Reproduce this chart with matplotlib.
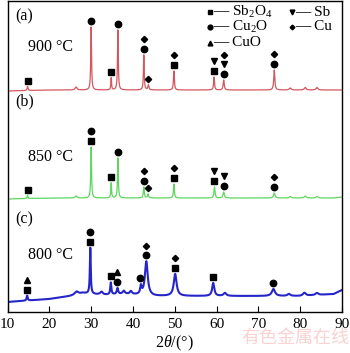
import numpy as np
import matplotlib
matplotlib.use("Agg")
import matplotlib.pyplot as plt

plt.rcParams['font.family'] = ['Liberation Serif', 'DejaVu Serif']
plt.rcParams['mathtext.fontset'] = 'custom'
plt.rcParams['mathtext.rm'] = 'Liberation Serif'
plt.rcParams['mathtext.it'] = 'Liberation Serif:italic'

# peaks: position (deg), height (px), FWHM (deg)
red_pos = [14.8, 26.4, 30.0, 34.8, 36.4, 42.6, 43.7, 49.8, 59.4, 61.7, 73.8, 77.6, 81.2, 84.0]
red_h = [4, 3, 63, 12, 60, 35, 5, 19, 13, 10, 20, 2, 2.5, 2.5]
red_w = [0.25, 0.5, 0.22, 0.2, 0.22, 0.22, 0.3, 0.25, 0.25, 0.3, 0.3, 0.5, 0.5, 0.5]

green_pos = [14.8, 26.4, 30.0, 34.8, 36.4, 42.6, 43.6, 49.8, 59.5, 61.7, 73.8, 77.6, 81.2, 84.0]
green_h = [3, 2, 51, 15, 40, 11, 4, 14, 11, 6, 5, 1.5, 2, 1.5]
green_w = [0.25, 0.5, 0.22, 0.2, 0.22, 0.25, 0.3, 0.25, 0.3, 0.35, 0.4, 0.5, 0.5, 0.5]

blue_pos = [14.7, 26.5, 29.8, 32.5, 34.7, 36.3, 37.8, 39.5, 41.9, 43.2, 50.1, 59.2, 62.0, 73.6, 77.3, 81.0, 84.0]
blue_h = [5, 3, 46, 3, 12, 6, 3, 3, 8, 34, 22, 13, 3, 7, 2, 3, 2]
blue_w = [0.3, 1.0, 0.25, 0.8, 0.3, 0.4, 0.6, 0.6, 0.4, 0.8, 0.8, 0.6, 0.8, 0.9, 0.8, 0.8, 0.8]

# background levels (px above the bottom axis)
bg_x = [10, 20, 25, 28, 30, 33, 38, 45, 55, 65, 80, 88, 90]
red_bg = [221, 222, 222, 222, 222, 222, 222, 222, 222, 222, 222, 222, 222]
green_bg = [113, 114, 114, 114, 114, 114, 114, 114, 114, 114, 114, 114, 115]
blue_bg = [10, 13, 16, 19, 18, 17, 18, 16, 16, 16, 16, 18, 22]

# phase markers: peak position, symbols from bottom to top
red_marks = [(14.8, 's'), (30.0, 'o'), (34.8, 's'), (36.4, 'o'), (42.6, 'oD'), (43.7, 'D'),
             (49.8, 'sD'), (59.4, 'sv'), (61.7, 'ovD'), (73.8, 'oD')]
green_marks = [(14.8, 's'), (30.0, 'so'), (34.8, 's'), (36.4, 'o'), (42.6, 'oD'), (43.6, 'D'),
               (49.8, 'sD'), (59.5, 'sv'), (61.7, 'ov'), (73.8, 'oD')]
blue_marks = [(14.7, 's^'), (29.8, 'so'), (34.7, 's'), (36.3, 'o^'), (41.6, 'o'), (43.2, 'oD'),
              (50.1, 'sD'), (59.2, 's'), (73.6, 'o')]

labels = ['(a)', '(b)', '(c)']
temps = ['900 °C', '850 °C', '800 °C']
label_y = [296, 211, 93]
temp_y = [265, 155, 57]

phase_syms = ['s', 'o', '^', 'v', 'D']
phase_names = ['Sb$_\\mathrm{2}$O$_\\mathrm{4}$', 'Cu$_\\mathrm{2}$O', 'CuO', 'Sb', 'Cu']

msize = {'s': 4.3, 'o': 4.6, 'D': 3.2, 'v': 4.6, '^': 4.6}

x = np.linspace(10, 90, 2401)


def pattern(pos, h, w, bg):
    y = np.interp(x, bg_x, bg)
    for p, a, fw in zip(pos, h, w):
        y = y + a / (1 + ((x - p) / (fw / 2)) ** 2)
    return y


fig = plt.figure(figsize=(3.5, 3.53), dpi=100)
ax = fig.add_axes([7.5 / 350, 41 / 353, 334.5 / 350, 311 / 353])

traces = [
    (pattern(red_pos, red_h, red_w, red_bg), '#d4575e', 0.9, red_marks),
    (pattern(green_pos, green_h, green_w, green_bg), '#5ed65e', 0.9, green_marks),
    (pattern(blue_pos, blue_h, blue_w, blue_bg), '#2626c8', 1.5, blue_marks),
]

for i, (y, col, lw, marks) in enumerate(traces):
    ax.plot(x, y, color=col, lw=lw)
    for p, syms in marks:
        sel = np.abs(x - p) < 0.4
        top = y[sel].max()
        for k, s in enumerate(syms):
            ax.plot(p, top + 6 + 9.5 * k, marker=s, color='k', ms=msize[s], ls='none')
    ax.text(11.8, label_y[i], labels[i], fontsize=11.5, va='center', ha='left')
    ax.text(15.0, temp_y[i], temps[i], fontsize=11.5, va='center', ha='left')

# hand-placed key (two columns, like the original)
key_x = [0.605, 0.605, 0.605, 0.8505, 0.8505]
key_y = [0.9646, 0.9164, 0.865, 0.9646, 0.9164]
for s, name, kx, ky in zip(phase_syms, phase_names, key_x, key_y):
    ax.plot(kx, ky, marker=s, color='k', ms=msize[s] * 0.75, ls='none', transform=ax.transAxes)
    ax.text(kx + 0.01, ky, '— ' + name, fontsize=11, va='center', ha='left', transform=ax.transAxes)

ax.set_xlim(10, 90)
ax.set_ylim(0, 311)
ax.set_xticks(np.arange(10, 91, 10))
ax.set_yticks([])
ax.tick_params(axis='x', direction='in', length=4, labelsize=11, pad=4)
for s in ax.spines.values():
    s.set_linewidth(1.0)
ax.set_xlabel('$\\mathit{2}\\theta$/(°)', fontsize=11.5, labelpad=2)

fig.text(0.843, 0.042, '有色金属在线', fontsize=13, color='#f9d2d2', ha='center', va='center',
         family=['Noto Sans CJK SC', 'DejaVu Sans'])

fig.savefig('out.png', dpi=100)
